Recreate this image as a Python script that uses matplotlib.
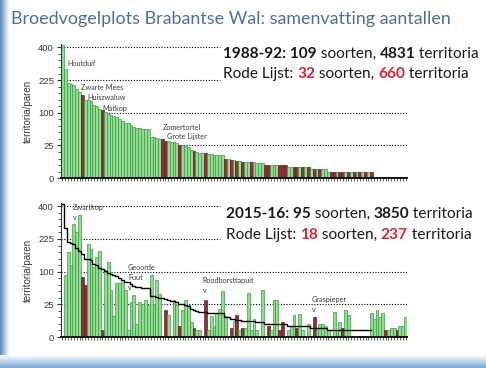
import numpy as np
import matplotlib
matplotlib.use('Agg')
import matplotlib.pyplot as plt
from matplotlib.ticker import FixedLocator, NullFormatter
from matplotlib.colors import LinearSegmentedColormap

# territoria per soort, volgorde = aflopend 1988-92
terr_1988 = [412, 277, 212, 209, 202, 187, 174, 160, 142, 142,
             140, 124, 122, 113, 108, 102, 97, 93, 90, 86,
             82, 77, 72, 70, 66, 60, 58, 58, 57, 56,
             56, 40, 39, 38, 36, 35, 33, 32, 31, 30,
             29, 25, 25, 24, 23, 18, 17, 16, 15, 15,
             15, 14, 14, 13, 13, 13, 13, 9, 9, 8,
             8, 7, 7, 6, 6, 6, 6, 6, 5, 5,
             5, 4, 4, 4, 4, 4, 4, 4, 4, 3,
             3, 3, 3, 3, 3, 3, 3, 2, 2, 2,
             2, 2, 2, 1, 1, 1, 1, 1, 1, 1,
             1, 1, 1, 1, 1, 1, 1, 1, 1, 0,
             0, 0, 0, 0, 0, 0, 0, 0, 0, 0,
             0]
terr_2015 = [0, 90, 170, 121, 298, 259, 347, 83, 63, 202,
             183, 115, 150, 172, 1, 105, 132, 51, 10, 69,
             69, 70, 51, 1, 28, 41, 4, 28, 26, 32,
             24, 90, 26, 76, 44, 0, 17, 11, 0, 32,
             24, 3, 17, 32, 24, 5, 2, 1, 1, 0,
             32, 1, 10, 3, 13, 19, 50, 10, 0, 2,
             6, 11, 1, 2, 2, 46, 1, 8, 1, 0,
             51, 0, 3, 1, 32, 32, 1, 5, 0, 1,
             3, 11, 2, 12, 1, 0, 4, 0, 9, 1,
             4, 4, 3, 1, 0, 15, 1, 5, 2, 17,
             11, 0, 0, 0, 0, 0, 0, 0, 13, 8,
             17, 9, 14, 1, 1, 2, 2, 1, 3, 3,
             9]
rode_lijst_1988 = [7, 14, 35, 36, 41, 46, 50, 57, 59, 61, 63, 66, 71, 72, 76, 77,
                   78, 81, 82, 84, 86, 88, 90, 94, 95, 97, 98, 100, 102, 104, 106, 108]
rode_lijst_2015 = [7, 8, 14, 36, 41, 46, 50, 59, 61, 63, 72, 76, 77, 82, 88, 98, 113, 117]
yticks = [0, 25, 100, 225, 400]

names_1988 = ['Houtduif', 'Zwarte Mees', 'Huiszwaluw', 'Matkop', 'Zomertortel', 'Grote Lijster']
names_2015 = ['Zwartkop\nv', 'Geoorde\nFuut\nv', 'Roodborsttapuit\nv', 'Graspieper\nv']

GREEN, GREEN_E = '#92dc92', '#3d9a4a'
RED, RED_E = '#8e2f3c', '#6a1f2a'
TXT = '#3a3a3a'

plt.rcParams['font.family'] = ['Lato', 'DejaVu Sans']

fig = plt.figure(figsize=(4.86, 3.68), dpi=100)

# blauwe rand links en onder
edge_cmap = LinearSegmentedColormap.from_list('rand', ['#5f86b8', '#a9c3e0', '#ffffff'])
bg = fig.add_axes([0, 0, 0.018, 1])
bg.imshow(np.linspace(0, 1, 50).reshape(1, -1), cmap=edge_cmap, aspect='auto',
          extent=[0, 1, 0, 1])
bg.axis('off')
band_cmap = LinearSegmentedColormap.from_list('band', ['#7ea6d4', '#b9d3ee', '#ffffff'])
bb = fig.add_axes([0, 0, 1, 0.035])
bb.imshow(np.linspace(1, 0, 30).reshape(-1, 1), cmap=band_cmap, aspect='auto',
          extent=[0, 1, 0, 1])
bb.axis('off')

fig.text(0.022, 0.948, 'Broedvogelplots Brabantse Wal: samenvatting aantallen',
         fontsize=12.9, color='#4f6e9c', va='center', ha='left')


def sq(v):
    return np.sqrt(np.clip(v, 0, None))


def sq_inv(v):
    return np.asarray(v) ** 2


def make_panel(rect, vals, reds, short_lines):
    ax = fig.add_axes(rect)
    idx = np.arange(len(vals))
    vals = np.asarray(vals, dtype=float)
    colors = np.array([RED if i in reds else GREEN for i in idx])
    edges = np.array([RED_E if i in reds else GREEN_E for i in idx])
    keep = vals > 0
    ax.bar(idx[keep], vals[keep], width=1.0, color=colors[keep],
           edgecolor=edges[keep], linewidth=0.5, zorder=2)
    ax.set_yscale('function', functions=(sq, sq_inv))
    ax.set_ylim(0, 420)
    ax.set_xlim(-0.5, len(vals) - 0.5)
    ax.set_yticks(yticks)
    ax.yaxis.set_minor_locator(FixedLocator([i ** 2 for i in range(21)]))
    ax.yaxis.set_minor_formatter(NullFormatter())
    ax.set_xticks(idx)
    ax.set_xticklabels([])
    ax.tick_params(axis='y', labelsize=6.8, colors=TXT, length=3, width=0.8, pad=2)
    ax.tick_params(axis='y', which='minor', length=2, width=0.6, color=TXT)
    ax.tick_params(axis='x', length=2.5, width=0.5, color='#222222')
    for lab in ax.get_yticklabels():
        lab.set_family('Liberation Sans')
    for s in ['top', 'right']:
        ax.spines[s].set_visible(False)
    ax.spines['left'].set_color('#333333')
    ax.spines['bottom'].set_color('#111111')
    ax.spines['bottom'].set_linewidth(1.4)
    for y in [25, 100, 225, 400]:
        xmax = 0.46 if y in short_lines else 1.0
        ax.axhline(y, xmin=0, xmax=xmax, color='black', lw=0.8, ls=(0, (1, 1.5)), zorder=1)
    ax.set_ylabel('territoria/paren', fontsize=7, color=TXT, family='Liberation Sans', labelpad=4)
    return ax


ax1 = make_panel([0.1255, 0.516, 0.712, 0.364], terr_1988, rode_lijst_1988, [225, 400])
ax2 = make_panel([0.1255, 0.0842, 0.712, 0.364], terr_2015, rode_lijst_2015, [225, 400])

# lijn 1988-92 in onderste paneel
n88 = sum(1 for v in terr_1988 if v > 0)
ax2.step(np.arange(n88), terr_1988[:n88], where='mid', color='black', lw=1.0, zorder=3)

# soortnamen
lab_kw = dict(fontsize=5.2, color=TXT, ha='left', va='center', zorder=4, linespacing=1.5)
for name, (x, y) in zip(names_1988, [(1.6, 308), (6.5, 193), (8.6, 154), (13.8, 115),
                                      (35.1, 59), (36.5, 40)]):
    ax1.text(x, y, name, **lab_kw)
for name, (x, y) in zip(names_2015, [(3.6, 360), (22.9, 84), (49.1, 62), (87.2, 24)]):
    ax2.text(x, y, name, **lab_kw)


def chain(x, y, parts, size=11.1):
    # tekstdelen achter elkaar, elk met eigen kleur/gewicht
    prev = None
    for txt, col, w in parts:
        if prev is None:
            prev = fig.text(x, y, txt, fontsize=size, color=col, weight=w,
                            va='baseline', ha='left')
        else:
            prev = fig.add_artist(matplotlib.text.Annotation(
                txt, xy=(1, 0), xycoords=prev, va='bottom', ha='left',
                fontsize=size, color=col, weight=w))
    return prev


K, R = '#1a1a1a', '#e3222f'
chain(0.459, 0.842, [('1988-92: 109', K, 'bold'), (' soorten, ', K, 'normal'),
                     ('4831', K, 'bold'), (' territoria', K, 'normal')])
chain(0.459, 0.787, [('Rode Lijst: ', K, 'normal'), ('32', R, 'bold'),
                     (' soorten, ', K, 'normal'), ('660', R, 'bold'),
                     (' territoria', K, 'normal')])
chain(0.465, 0.407, [('2015-16: 95', K, 'bold'), (' soorten, ', K, 'normal'),
                     ('3850', K, 'bold'), (' territoria', K, 'normal')])
chain(0.465, 0.350, [('Rode Lijst: ', K, 'normal'), ('18', R, 'bold'),
                     (' soorten, ', K, 'normal'), ('237', R, 'bold'),
                     (' territoria', K, 'normal')])

fig.savefig('out.png', dpi=100)
